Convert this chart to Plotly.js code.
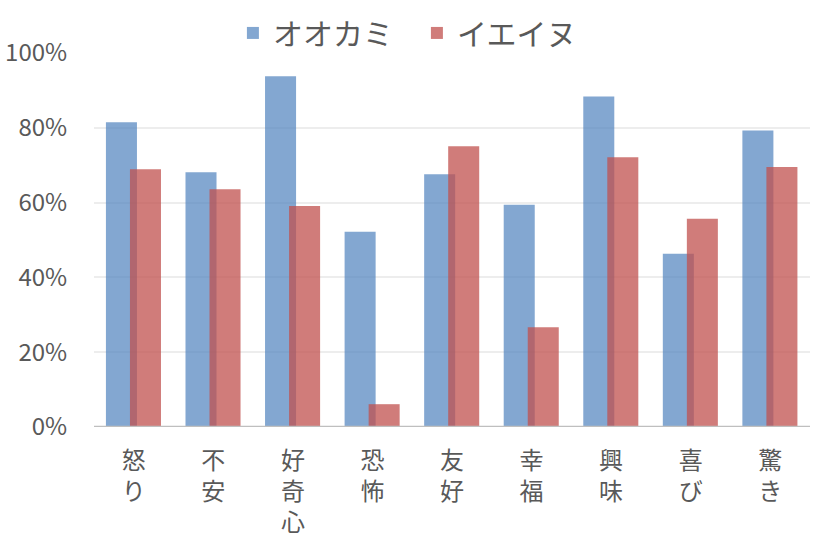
<!DOCTYPE html>
<html>
<head>
<meta charset="utf-8">
<script src="https://cdn.plot.ly/plotly-3.0.1.min.js"></script>
<style>html,body{margin:0;padding:0;background:#fff;}#chart{width:823px;height:549px;}</style>
</head>
<body>
<div id="chart"></div>
<script>
const categories = ["怒り", "不安", "好奇心", "恐怖", "友好", "幸福", "興味", "喜び", "驚き"];
const tickLabels = ["怒<br>り", "不<br>安", "好<br>奇<br>心", "恐<br>怖", "友<br>好", "幸<br>福", "興<br>味", "喜<br>び", "驚<br>き"];
const wolfName = "オオカミ";
const dogName = "イエイヌ";
const wolfValues = [81.5, 68.1, 93.8, 52.2, 67.6, 59.4, 88.4, 46.3, 79.3];
const dogValues = [68.9, 63.6, 59.1, 6.1, 75.1, 26.7, 72.1, 55.7, 69.5];
const yTickVals = [0, 20, 40, 60, 80, 100];
const yTickText = ["0%", "20%", "40%", "60%", "80%", "100%"];

const font = "'Noto Sans CJK JP', 'Noto Sans', sans-serif";
const textColor = "#595959";

const traces = [
  {
    type: "bar", name: wolfName, x: categories, y: wolfValues,
    offset: -0.35, width: 0.39,
    marker: {color: "rgba(79,129,189,0.7)", line: {width: 0}},
    hoverinfo: "none"
  },
  {
    type: "bar", name: dogName, x: categories, y: dogValues,
    offset: -0.048, width: 0.39,
    marker: {color: "rgba(192,80,77,0.75)", line: {width: 0}},
    hoverinfo: "none"
  }
];

const layout = {
  width: 823, height: 549,
  margin: {l: 94, r: 13, t: 53, b: 122, autoexpand: false},
  paper_bgcolor: "#fff", plot_bgcolor: "#fff",
  barmode: "overlay",
  font: {family: font, color: textColor, size: 24},
  showlegend: true,
  legend: {
    orientation: "h",
    xref: "container", x: 0.283, xanchor: "left",
    yref: "container", y: 0.94, yanchor: "middle",
    entrywidthmode: "pixels", entrywidth: 139,
    font: {family: font, size: 30, color: textColor},
    itemclick: false, itemdoubleclick: false,
    tracegroupgap: 0
  },
  xaxis: {
    type: "category",
    tickmode: "array", tickvals: categories, ticktext: tickLabels,
    tickfont: {family: font, size: 24, color: textColor},
    showgrid: false, showline: false, zeroline: false,
    ticks: "outside", ticklen: 12, tickcolor: "rgba(0,0,0,0)",
    range: [-0.5, 8.5], fixedrange: true
  },
  yaxis: {
    range: [0, 100],
    tickmode: "array", tickvals: yTickVals, ticktext: yTickText,
    tickfont: {family: font, size: 24, color: textColor},
    showgrid: true, gridcolor: "#EDEDED", gridwidth: 2,
    zeroline: false, showline: false, ticks: "outside", ticklen: 21, tickcolor: "rgba(0,0,0,0)",
    fixedrange: true
  },
  shapes: [
    {type: "line", xref: "paper", yref: "y", x0: 0, x1: 1, y0: 0, y1: 0,
     line: {color: "#BFBFBF", width: 2.5}}
  ]
};

Plotly.newPlot("chart", traces, layout, {displayModeBar: false, staticPlot: true});
</script>
</body>
</html>
